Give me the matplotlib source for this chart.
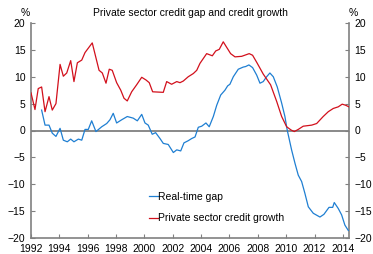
import matplotlib
matplotlib.use("Agg")
import matplotlib.pyplot as plt

plt.rcParams['font.family'] = ['Liberation Sans', 'DejaVu Sans']

red_years = [1992.00, 1992.28, 1992.51, 1992.75, 1992.99, 1993.27, 1993.50, 1993.76, 1994.05, 1994.28,
             1994.52, 1994.80, 1995.03, 1995.27, 1995.58, 1995.81, 1996.32, 1996.80, 1997.03, 1997.29,
             1997.52, 1997.73, 1998.04, 1998.33, 1998.56, 1998.79, 1999.10, 1999.45, 1999.81, 2000.11,
             2000.34, 2000.58, 2001.33, 2001.57, 2001.92, 2002.28, 2002.51, 2002.74, 2003.09, 2003.45,
             2003.69, 2003.92, 2004.39, 2004.79, 2005.03, 2005.28, 2005.56, 2006.08, 2006.39, 2006.86,
             2007.39, 2007.63, 2007.96, 2008.38, 2008.90, 2009.33, 2009.68, 2010.03, 2010.34, 2010.57,
             2010.85, 2011.20, 2011.80, 2012.15, 2012.61, 2012.97, 2013.32, 2013.67, 2013.95, 2014.19,
             2014.43]
red_values = [7.0, 3.9, 7.8, 8.1, 3.5, 6.3, 3.8, 5.0, 12.3, 10.1,
              10.7, 13.0, 9.1, 12.6, 13.1, 14.5, 16.3, 11.2, 10.7, 8.8,
              11.4, 11.2, 8.9, 7.5, 6.0, 5.5, 7.2, 8.5, 9.9, 9.4,
              8.9, 7.2, 7.1, 9.1, 8.6, 9.1, 8.9, 9.2, 10.0, 10.6,
              11.2, 12.5, 14.3, 13.9, 14.8, 15.1, 16.5, 14.3, 13.7, 13.8,
              14.3, 14.0, 12.5, 10.5, 8.5, 5.4, 2.6, 0.7, 0.1, -0.2,
              0.2, 0.8, 1.0, 1.3, 2.6, 3.5, 4.1, 4.4, 4.9, 4.7,
              4.4]

blue_years = [1992.75, 1992.99, 1993.27, 1993.50, 1993.76, 1994.05, 1994.28, 1994.56, 1994.80, 1995.03,
              1995.34, 1995.58, 1995.81, 1996.04, 1996.28, 1996.58, 1996.99, 1997.34, 1997.57, 1997.80,
              1998.04, 1998.40, 1998.79, 1999.21, 1999.50, 1999.81, 2000.04, 2000.27, 2000.55, 2000.79,
              2001.10, 2001.33, 2001.68, 2002.04, 2002.28, 2002.56, 2002.79, 2003.09, 2003.33, 2003.57,
              2003.80, 2004.04, 2004.34, 2004.57, 2004.86, 2005.10, 2005.38, 2005.68, 2005.87, 2006.03,
              2006.27, 2006.62, 2006.97, 2007.14, 2007.37, 2007.63, 2007.92, 2008.15, 2008.38, 2008.62,
              2008.85, 2009.09, 2009.37, 2009.68, 2009.91, 2010.07, 2010.38, 2010.62, 2010.85, 2011.09,
              2011.32, 2011.56, 2011.91, 2012.38, 2012.66, 2013.02, 2013.28, 2013.39, 2013.67, 2013.91,
              2014.14, 2014.38]
blue_values = [3.8, 1.0, 1.0, -0.5, -1.1, 0.4, -1.8, -2.1, -1.6, -2.1,
               -1.6, -1.8, 0.2, 0.2, 1.8, -0.2, 0.7, 1.3, 2.0, 3.2,
               1.4, 2.0, 2.6, 2.3, 1.8, 3.0, 1.4, 1.0, -0.7, -0.4,
               -1.5, -2.4, -2.6, -4.1, -3.6, -3.8, -2.3, -1.9, -1.5, -1.2,
               0.6, 0.8, 1.4, 0.7, 2.6, 4.7, 6.6, 7.5, 8.3, 8.6,
               10.0, 11.4, 11.8, 11.9, 12.2, 11.7, 10.3, 8.8, 9.1, 10.0,
               10.7, 10.0, 8.1, 5.1, 2.6, 0.1, -3.6, -6.1, -8.3, -9.5,
               -11.7, -14.2, -15.4, -16.1, -15.6, -14.3, -14.3, -13.4, -14.5, -15.7,
               -17.6, -18.6]

x_ticks = list(range(1992, 2015, 2))
y_ticks = list(range(-20, 21, 5))

title = "Private sector credit gap and credit growth"
blue_label = "Real-time gap"
red_label = "Private sector credit growth"

fig = plt.figure(figsize=(3.73, 2.54), dpi=100)
ax = fig.add_axes([31/373, 1-238/254, (349-31)/373, (238-23)/254])

axis_gray = '#808080'
ax.axhline(0, color=axis_gray, lw=1.3, zorder=1)
ax.plot(blue_years, blue_values, color='#1f7fd2', lw=0.9, label=blue_label, zorder=3)
ax.plot(red_years, red_values, color='#d2101c', lw=0.9, label=red_label, zorder=3)

ax.set_xlim(1992, 2014.43)
ax.set_ylim(-20, 20)
ax.set_xticks(x_ticks)
ax.set_yticks(y_ticks)

ax.spines['top'].set_visible(False)
for s in ['left', 'right', 'bottom']:
    ax.spines[s].set_color(axis_gray)
    ax.spines[s].set_linewidth(1.2)

ax.tick_params(axis='both', direction='in', length=3, width=0.8, color=axis_gray,
               labelsize=7.5)
ax.tick_params(axis='x', pad=4.5)
ax.tick_params(axis='y', pad=4, left=True, right=True, labelleft=True, labelright=True)

fig.text(190/373, 1-13/254, title, ha='center', va='center', fontsize=7.5)
fig.text(25/373, 1-13/254, '%', ha='center', va='center', fontsize=7.5)
fig.text(353/373, 1-13/254, '%', ha='center', va='center', fontsize=7.5)

leg = ax.legend(loc='upper left', bbox_to_anchor=((149-31)/318, (238-192)/215),
                frameon=False, fontsize=7.5, handlelength=0.9, handletextpad=0.0,
                labelspacing=1.1, borderaxespad=0, borderpad=0)

fig.savefig('out.png', dpi=100)
